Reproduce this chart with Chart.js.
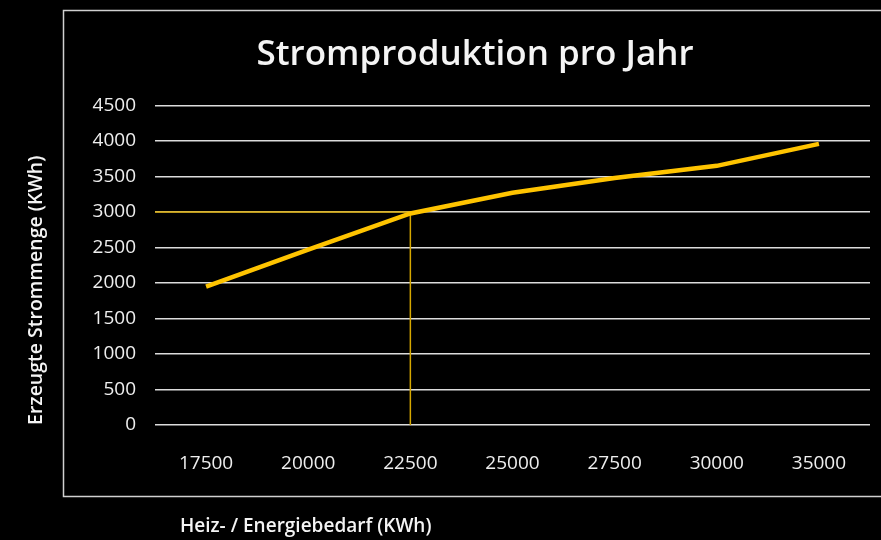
<!DOCTYPE html>
<html>
<head>
<meta charset="utf-8">
<script src="https://cdn.jsdelivr.net/npm/chart.js@4"></script>
<style>
  html, body { margin: 0; padding: 0; background: #000; }
  #wrap { width: 881px; height: 540px; }
</style>
</head>
<body>
<div id="wrap"><canvas id="stromChart" width="881" height="540"></canvas></div>
<script>
// Heizbedarf (Kategorien) und erzeugte Strommenge
const bedarf = ['17500', '20000', '22500', '25000', '27500', '30000', '35000'];
const strommenge = [1950, 2470, 2980, 3270, 3480, 3650, 3960];

// Ablese-Hilfslinie
const markerKategorie = '22500';
const markerWert = 3000;

const titel = 'Stromproduktion pro Jahr';
const yTitel = 'Erzeugte Strommenge (KWh)';
const xTitel = 'Heiz- / Energiebedarf (KWh)';

const schrift = "'Open Sans', sans-serif";

// schwarzer Hintergrund, Rahmen, Diagrammtitel und x-Achsentitel
const rahmen = {
  id: 'rahmen',
  beforeDraw(chart) {
    const ctx = chart.ctx;
    ctx.save();
    ctx.fillStyle = '#000';
    ctx.fillRect(0, 0, chart.width, chart.height);
    ctx.strokeStyle = '#d0d0d0';
    ctx.lineWidth = 1.5;
    ctx.strokeRect(63.5, 10.5, 840, 486);
    ctx.fillStyle = '#f4f4f4';
    ctx.textBaseline = 'alphabetic';
    ctx.font = '600 35px ' + schrift;
    ctx.textAlign = 'center';
    ctx.fillText(titel, 475, 65);
    ctx.font = '600 19px ' + schrift;
    ctx.textAlign = 'left';
    ctx.fillText(xTitel, 180, 532);
    ctx.restore();
  }
};

// gelbe Hilfslinien bei 22500 / 3000
const hilfslinien = {
  id: 'hilfslinien',
  beforeDatasetsDraw(chart) {
    const ctx = chart.ctx;
    const x = chart.scales.x;
    const y = chart.scales.y;
    const px = x.getPixelForValue(bedarf.indexOf(markerKategorie));
    const py = y.getPixelForValue(markerWert);
    const p0 = y.getPixelForValue(0);
    ctx.save();
    ctx.strokeStyle = '#d6a800';
    ctx.lineWidth = 1.5;
    ctx.beginPath();
    ctx.moveTo(chart.chartArea.left, py);
    ctx.lineTo(px, py);
    ctx.lineTo(px, p0);
    ctx.stroke();
    ctx.restore();
  }
};

new Chart(document.getElementById('stromChart'), {
  type: 'line',
  data: {
    labels: bedarf,
    datasets: [{
      label: 'Strommenge',
      data: strommenge,
      borderColor: '#ffc400',
      backgroundColor: '#ffc400',
      borderWidth: 4.5,
      pointRadius: 0,
      tension: 0
    }]
  },
  options: {
    responsive: false,
    animation: false,
    layout: { padding: { left: 25, right: 11, top: 105.5, bottom: 0 } },
    plugins: {
      legend: { display: false },
      tooltip: { enabled: false }
    },
    scales: {
      x: {
        offset: true,
        grid: { display: false },
        border: { display: false },
        ticks: { color: '#eeeeee', font: { family: schrift, size: 19 }, padding: 19 },
        afterFit(s) { s.height = 115; }
      },
      y: {
        min: 0,
        max: 4500,
        grid: { color: '#dcdcdc', lineWidth: 1.5, drawTicks: false },
        border: { display: false },
        ticks: {
          stepSize: 500, color: '#eeeeee', font: { family: schrift, size: 19 }, padding: 19,
          callback: (v) => String(v)
        },
        title: {
          display: true, text: yTitel, align: 'start', color: '#f4f4f4',
          font: { family: schrift, size: 19.5, weight: 600 },
          padding: { top: 0, bottom: 0 }
        },
        afterFit(s) { s.width = 130; }
      }
    }
  },
  plugins: [rahmen, hilfslinien]
});
</script>
</body>
</html>
